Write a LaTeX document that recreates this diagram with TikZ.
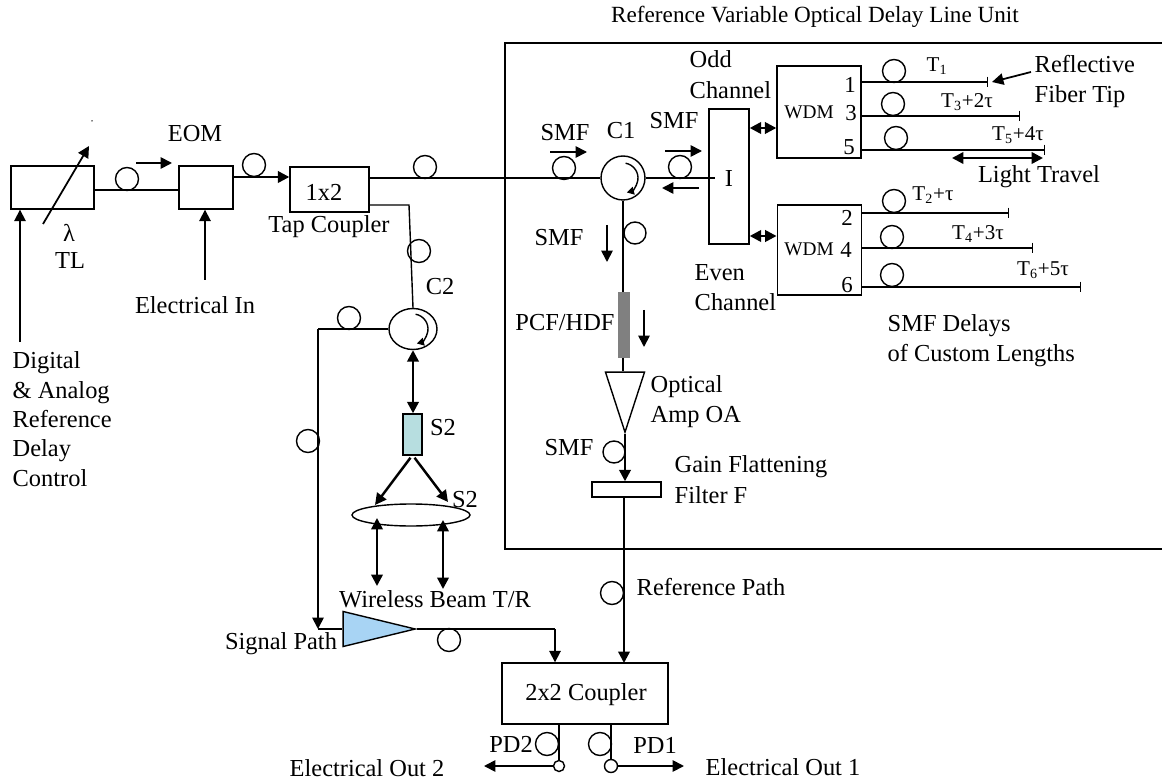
\documentclass[tikz,border=0pt]{standalone}
\usepackage{fontspec}
\setmainfont{Liberation Serif}
\usepackage{xcolor}
\usepackage{tikz}
\usetikzlibrary{arrows.meta, shapes.geometric, calc}

\definecolor{splitteal}{HTML}{B7DEE0}
\definecolor{ampblue}{HTML}{A8D4F4}

\begin{document}
\begin{tikzpicture}[
    x=0.02cm, y=-0.02cm,
    line width=0.8pt,
    >={Triangle[length=6.5pt, width=6.5pt]},
    % Node styles
    lbl/.style={inner sep=0pt, font=\fontsize{13.9}{16.7}\selectfont},
    small/.style={inner sep=0pt, font=\fontsize{11}{13}\selectfont},
    delay/.style={inner sep=0pt, font=\fontsize{12}{14}\selectfont},
    port/.style={inner sep=0pt, font=\fontsize{13}{15}\selectfont},
    box/.style={rectangle, draw, inner sep=0pt},
    coil/.style={circle, draw, inner sep=0pt, minimum size=0.46cm},
    circ/.style={ellipse, draw, inner sep=0pt},
    amp/.style={isosceles triangle, isosceles triangle stretches, draw, inner sep=0pt},
    bold/.style={line width=1.4pt},
    tipped/.style={-{Bar[width=6pt, line width=0.8pt]}},
    spin/.style={-{Triangle[length=4pt, width=4.5pt]}},
]

% Source side
\useasboundingbox (0,0) rectangle (1162,780);
\node[box, minimum width=1.66cm, minimum height=0.86cm] (tl) at (52.5,187.5) {};
\node[box, minimum width=1.08cm, minimum height=0.86cm] (eom) at (206,187.5) {};
\node[box, minimum width=1.58cm, minimum height=0.90cm] (tap) at (329.5,189.5) {};
\node[lbl] (eom-lbl) at (195,134) {EOM};
\node[lbl] (lam-lbl) at (69,233) {λ};
\node[lbl] (tl-lbl) at (70,261) {TL};
\node[lbl] (tap-lbl) at (324,192) {1x2};
\node[lbl] (tapc-lbl) at (329,227) {Tap Coupler};
\node[lbl] (elin-lbl) at (195,305) {Electrical In};
\node[lbl, align=left, anchor=west] (ctrl-lbl) at (12,419) {Digital\\\& Analog\\Reference\\Delay\\Control};
\node[circle, fill, inner sep=0pt, minimum size=0.03cm] (speck) at (92,121) {};
\node[coil] (coil1) at (127,179) {};
\node[coil] (coil2) at (254,165) {};
\node[coil] (coil3) at (425,167) {};
\node[coil] (coil4) at (419,251) {};

% Tuning and control arrows
\coordinate (tune-a) at (43,224);
\coordinate (tune-b) at (89,146);
\coordinate (ctrl-a) at (20,342);
\coordinate (elin-a) at (205,280);
\coordinate (eomdir-a) at (136,163);
\coordinate (eomdir-b) at (172,163);
\draw[->, line width=1pt] (tune-a) -- (tune-b);
\draw[->, line width=1pt] (ctrl-a) -- (ctrl-a |- tl.south);
\draw[->, line width=1pt] (elin-a) -- (elin-a |- eom.south);
\draw[->, line width=1pt] (eomdir-a) -- (eomdir-b);
\draw (tl.east |- 0,190) -- (eom.west |- 0,190);
\draw[->, bold] (eom.east |- 0,177) -- (tap.west |- 0,177);

% Reference unit frame
\draw (1162,43) -- (505,43) -- (505,549) -- (1162,549);
\node[inner sep=0pt, font=\fontsize{13.2}{16}\selectfont] (unit-lbl) at (815,17) {Reference Variable Optical Delay Line Unit};

% Circulator C1 and interleaver
\node[circ, minimum width=0.88cm, minimum height=0.88cm] (c1) at (623,178) {};
\node[box, minimum width=0.80cm, minimum height=2.70cm] (intl) at (729,176.5) {};
\node[box, minimum width=1.68cm, minimum height=1.84cm] (wdma) at (819,112) {};
\node[box, minimum width=1.69cm, minimum height=1.80cm] (wdmb) at (819.5,250) {};
\node[lbl] (c1-lbl) at (621,131) {C1};
\node[lbl] (smf1-lbl) at (565,133) {SMF};
\node[lbl] (smf2-lbl) at (674,121) {SMF};
\node[lbl] (smf3-lbl) at (559,238) {SMF};
\node[lbl] (intl-lbl) at (729,179) {I};
\node[lbl, align=left, anchor=west] (odd-lbl) at (689,74.5) {Odd\\[0.8pt]Channel};
\node[lbl, align=left, anchor=west] (even-lbl) at (694,287.5) {Even\\[0.8pt]Channel};
\node[small] (wdma-lbl) at (809,112) {WDM};
\node[small] (wdmb-lbl) at (809,249) {WDM};
\node[coil] (coil5) at (564,168) {};
\node[coil] (coil6) at (680,167) {};
\node[coil, minimum size=0.44cm] (coil7) at (635,233) {};
\coordinate (dir1-a) at (550,152);
\coordinate (dir1-b) at (587,152);
\coordinate (dir2-a) at (665,151);
\coordinate (dir2-b) at (702,151);
\coordinate (dir3-a) at (699,188);
\coordinate (dir3-b) at (662,188);
\coordinate (dir4-a) at (607,225);
\coordinate (dir4-b) at (607,262);
\coordinate (intl-in) at (715,178);
\draw (tap.east |- c1.west) -- (c1.west);
\draw (c1.east) -- (intl-in);
\draw[->, line width=1pt] (dir1-a) -- (dir1-b);
\draw[->, line width=1pt] (dir2-a) -- (dir2-b);
\draw[->, line width=1pt] (dir3-a) -- (dir3-b);
\draw[->, line width=1pt] (dir4-a) -- (dir4-b);
\draw[spin] ([shift={(80:0.3cm)}]c1.center) arc[start angle=80, end angle=-75, radius=0.3cm];
\draw[<->, bold] (intl.east |- 0,128) -- (wdma.west |- 0,128);
\draw[<->, bold] (intl.east |- 0,236) -- (wdmb.west |- 0,236);

% Odd delay lines
\coordinate (tip1) at (988,82);
\coordinate (tip3) at (1020,116);
\coordinate (tip5) at (1045,150);
\coordinate (tip2) at (1009,213);
\coordinate (tip4) at (1033,248);
\coordinate (tip6) at (1081,287);
\draw[tipped] (wdma.east |- tip1) -- (tip1);
\draw[tipped] (wdma.east |- tip3) -- (tip3);
\draw[tipped] (wdma.east |- tip5) -- (tip5);
\node[coil] (coil8) at (894,71) {};
\node[coil] (coil9) at (893,104) {};
\node[coil] (coil10) at (896,138) {};
\node[port] (p1) at (850,85) {1};
\node[port] (p3) at (851,113) {3};
\node[port] (p5) at (849,147) {5};
\node[delay] (t1-lbl) at (937,66) {T\textsubscript{1}};
\node[delay] (t3-lbl) at (967,102) {T\textsubscript{3}+2τ};
\node[delay] (t5-lbl) at (1018,135) {T\textsubscript{5}+4τ};
\node[lbl, align=left, anchor=west] (tip-lbl) at (1034,81.5) {Reflective\\[0.8pt]Fiber Tip};
\coordinate (tipdir-a) at (1031,72);
\coordinate (tipdir-b) at (992,82);
\coordinate (trav-a) at (952,158);
\coordinate (trav-b) at (1043,158);
\draw[->, line width=1pt] (tipdir-a) -- (tipdir-b);
\draw[<->, bold] (trav-a) -- (trav-b);
\node[lbl] (trav-lbl) at (1039,177) {Light Travel};

% Even delay lines
\draw[tipped] (wdmb.east |- tip2) -- (tip2);
\draw[tipped] (wdmb.east |- tip4) -- (tip4);
\draw[tipped] (wdmb.east |- tip6) -- (tip6);
\node[coil] (coil11) at (894,201) {};
\node[coil] (coil12) at (892,237) {};
\node[coil] (coil13) at (892,275) {};
\node[port] (p2) at (847,218) {2};
\node[port] (p4) at (846,250) {4};
\node[port] (p6) at (847,285) {6};
\node[delay] (t2-lbl) at (933,195) {T\textsubscript{2}+τ};
\node[delay] (t4-lbl) at (978,234) {T\textsubscript{4}+3τ};
\node[delay] (t6-lbl) at (1043,270) {T\textsubscript{6}+5τ};
\node[lbl, align=left, anchor=west] (delay-lbl) at (887,341) {SMF Delays\\[0.4pt]of Custom Lengths};

% Reference path down to the coupler
\node[rectangle, draw=black!50, fill=black!50, inner sep=0pt, minimum width=0.22cm, minimum height=1.28cm] (pcf) at (624,325) {};
\node[amp, shape border rotate=-90, minimum width=0.78cm, minimum height=1.20cm, anchor=apex] (oa) at (625,434) {};
\node[box, minimum width=1.38cm, minimum height=0.30cm] (flat) at (626.5,489.5) {};
\node[box, minimum width=3.32cm, minimum height=1.22cm] (cplr) at (585,693.5) {};
\node[lbl] (pcf-lbl) at (565,323) {PCF/HDF};
\node[lbl, align=left, anchor=west] (oa-lbl) at (650,402) {Optical\\[0.4pt]Amp OA};
\node[lbl] (smf4-lbl) at (569,448) {SMF};
\node[lbl, align=left, anchor=west] (flat-lbl) at (674,479.5) {Gain Flattening\\[0.8pt]Filter F};
\node[lbl, anchor=west] (ref-lbl) at (636,587) {Reference Path};
\node[lbl] (cplr-lbl) at (586,695) {2x2 Coupler};
\node[coil, minimum size=0.44cm] (coil14) at (614,452) {};
\node[coil] (coil15) at (612,593) {};
\coordinate (dir5-a) at (644,310);
\coordinate (dir5-b) at (644,347);
\coordinate (refin) at (624,663);
\draw (c1.south) -- (c1.south |- pcf.north);
\draw (c1.south |- pcf.south) -- (c1.south |- oa.north);
\draw[->, bold] (oa.apex) -- (oa.apex |- flat.north);
\draw[->, line width=1pt] (dir5-a) -- (dir5-b);
\draw[->, bold] (refin |- flat.south) -- (refin);

% Circulator C2 and wireless branch
\node[circ, minimum width=0.96cm, minimum height=0.82cm] (c2) at (413,329) {};
\node[box, fill=splitteal, minimum width=0.38cm, minimum height=0.82cm] (split) at (412.5,434.5) {};
\node[circ, minimum width=2.36cm, minimum height=0.44cm] (beam) at (411,515) {};
\node[amp, fill=ampblue, shape border rotate=0, minimum width=0.70cm, minimum height=1.44cm, anchor=apex] (sigamp) at (417,629) {};
\node[lbl] (c2-lbl) at (440,287) {C2};
\node[lbl] (s2a-lbl) at (443,428) {S2};
\node[lbl] (s2b-lbl) at (465,500) {S2};
\node[lbl] (beam-lbl) at (435,599) {Wireless Beam T/R};
\node[lbl] (sig-lbl) at (281,644) {Signal Path};
\node[coil] (coil16) at (349,318) {};
\node[coil] (coil17) at (308,441) {};
\node[coil] (coil18) at (449,640) {};
\coordinate (tapturn) at (409,205);
\coordinate (sigturn) at (318,329);
\coordinate (sigfoot) at (318,629);
\coordinate (fan-a) at (375,505);
\coordinate (fan-b) at (448,502);
\coordinate (beam1-a) at (377,518);
\coordinate (beam1-b) at (377,586);
\coordinate (beam2-a) at (443,520);
\coordinate (beam2-b) at (443,589);
\coordinate (sigturn2) at (555,629);
\draw (tap.east |- tapturn) -- (tapturn) -- (c2.north);
\draw (c2.west) -- (sigturn);
\draw[->, line width=1pt] (sigturn) -- (sigfoot);
\draw (sigfoot) -- (sigamp.west |- sigfoot);
\draw[spin] ([shift={(80:0.3cm)}]c2.center) arc[start angle=80, end angle=-75, radius=0.3cm];
\draw[<->, bold] (c2.south) -- (c2.south |- split.north);
\draw[->, bold] (split.south) ++(-2,2) -- (fan-a);
\draw[->, bold] (split.south) ++(2,2) -- (fan-b);
\draw[<->, bold] (beam1-a) -- (beam1-b);
\draw[<->, bold] (beam2-a) -- (beam2-b);
\draw (sigamp.apex) -- (sigturn2);
\draw[->, line width=1pt] (sigturn2) -- (sigturn2 |- cplr.north);

% Coupler outputs
\node[circle, draw, inner sep=0pt, minimum size=0.22cm] (pd2) at (559,766) {};
\node[circle, draw, inner sep=0pt, minimum size=0.26cm] (pd1) at (611,766) {};
\node[coil] (coil19) at (547,744) {};
\node[coil] (coil20) at (600,744) {};
\node[lbl] (pd2-lbl) at (511,744) {PD2};
\node[lbl] (pd1-lbl) at (655,745) {PD1};
\node[lbl] (out2-lbl) at (367,768) {Electrical Out 2};
\node[lbl] (out1-lbl) at (783,767) {Electrical Out 1};
\coordinate (out2-a) at (484,766);
\coordinate (out1-a) at (684,766);
\draw (pd2.north |- cplr.south) -- (pd2.north);
\draw (pd1.north |- cplr.south) -- (pd1.north);
\draw[->, line width=1pt] (pd2.west) -- (out2-a);
\draw[->, line width=1pt] (pd1.east) -- (out1-a);

\end{tikzpicture}
\end{document}
